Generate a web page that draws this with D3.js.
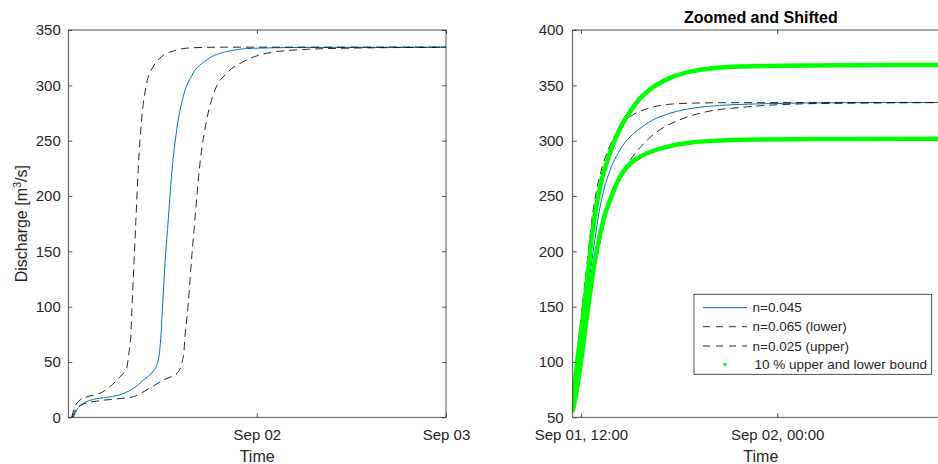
<!DOCTYPE html>
<html>
<head>
<meta charset="utf-8">
<script src="https://cdn.jsdelivr.net/npm/d3@7"></script>
<style>
  body { margin: 0; background: #fff; }
  text { font-family: "Liberation Sans", Arial, Helvetica, sans-serif; }
</style>
</head>
<body>
<svg id="chart" width="938" height="464"></svg>
<script>
// ---- Data: time in hours after Sep 01 00:00, discharge in m^3/s ----

// Full event (left panel)
const fullBaseH  = [0.72, 1.15, 1.99, 3.26, 4.96, 6.43, 8.33, 9.60, 10.87, 11.30, 11.63, 11.81, 12.06, 12.35, 12.72, 13.20, 13.84, 14.67, 15.94, 17.64, 20.18, 23.55, 29.48, 48];
const fullBaseQ  = [0, 6.6, 12.5, 16.2, 18, 20, 26, 33.5, 42, 47, 57.5, 71, 103, 139, 174, 220, 260, 290, 311, 323, 330.5, 333.5, 334.2, 334.5];
const fullLowerH = [0.59, 1.15, 1.99, 4.11, 6.64, 8.33, 10.2, 12.14, 14.04, 14.47, 14.76, 14.89, 15.31, 15.61, 16.03, 16.79, 17.64, 18.70, 20.18, 22.29, 25.25, 29.48, 35.82, 48];
const fullLowerQ = [0, 8.1, 12, 15, 17, 18.6, 25.5, 33.7, 41, 49, 60, 73, 103, 133, 169, 229.6, 268.7, 295.8, 311, 321.4, 329, 332.2, 333.6, 334.4];
const fullUpperH = [0.51, 0.93, 1.57, 2.84, 4.11, 5.37, 6.64, 7.49, 7.76, 8.0, 8.17, 8.42, 8.67, 8.96, 9.40, 10.03, 10.87, 11.93, 13.40, 15.94, 20.6, 48];
const fullUpperQ = [0, 9.6, 15.6, 19.3, 21.7, 27.7, 36.7, 44.3, 57.8, 72, 100, 140, 180, 225, 270, 302, 317, 326, 331, 334, 334.5, 334.5];

// Zoomed and shifted (right panel)
const zoomBaseH  = [11.55, 11.95, 12.36, 12.76, 13.17, 13.45, 13.78, 14.39, 15.61, 16.63, 17.45, 18.06, 19.69, 22.75, 27.84, 34.5];
const zoomBaseQ  = [58, 107.8, 156, 200.8, 240, 258, 273, 291.6, 311, 320.3, 324.8, 327.2, 330.8, 333.2, 334.3, 334.5];
const zoomLowerH = [11.52, 11.95, 12.56, 13.17, 13.6, 14.09, 15.0, 16.02, 16.84, 18.06, 19.69, 21.73, 24.78, 27.84, 34.5];
const zoomLowerQ = [55, 95, 160, 208, 236, 257, 282, 300, 310, 319, 326.2, 330, 332.9, 333.8, 334.4];
const zoomUpperH = [11.52, 11.95, 12.36, 12.56, 12.76, 13.0, 13.3, 13.68, 14.2, 14.7, 15.2, 15.61, 16.43, 17.65, 20.5, 34.5];
const zoomUpperQ = [60, 131.9, 186, 214, 238, 258, 276, 292, 308, 318, 323.5, 326.5, 330.5, 333.2, 334.3, 334.5];
const boundHiH   = [11.49, 11.74, 12.05, 12.36, 12.66, 12.97, 13.2, 13.47, 13.98, 14.5, 15.0, 15.61, 16.2, 16.63, 17.5, 18.67, 20.0, 21.73, 25.8, 34.5];
const boundHiQ   = [56, 95.7, 131.9, 171, 212, 243, 260, 275, 297, 314, 326, 338, 346, 350.5, 357, 362.4, 365.4, 367, 368, 368.4];
const boundLoH   = [11.52, 11.64, 12.05, 12.45, 12.86, 13.37, 13.88, 14.3, 14.8, 15.2, 15.61, 16.2, 16.84, 17.7, 18.67, 20.0, 22.75, 27.84, 34.5];
const boundLoQ   = [57, 65.6, 104.8, 150, 192, 228, 250, 265, 276, 281.5, 285.5, 289.5, 292.8, 296, 298.2, 299.8, 301, 301.5, 301.8];

// Axis ticks
const leftYTicks  = [0, 50, 100, 150, 200, 250, 300, 350];
const rightYTicks = [50, 100, 150, 200, 250, 300, 350, 400];
const leftXTickH  = [24, 48];
const leftXTickLabels  = ["Sep 02", "Sep 03"];
const rightXTickH = [12, 24];
const rightXTickLabels = ["Sep 01, 12:00", "Sep 02, 00:00"];

const legendLabels = ["n=0.045", "n=0.065 (lower)", "n=0.025 (upper)", "10 % upper and lower bound"];

// ---- Drawing ----
const svg = d3.select("#chart");
const t0 = Date.UTC(2016, 8, 1);
const toDate = h => new Date(t0 + h * 3600e3);
const zip = (H, Q) => H.map((h, i) => ({ t: toDate(h), q: Q[i] }));

const AX = "#262626";
const plotTop = 30, plotBottom = 417.3;

function panel(opts) {
  const g = svg.append("g");
  const x = d3.scaleUtc().domain(opts.xDomain.map(toDate)).range([opts.x0, opts.x1]);
  const y = d3.scaleLinear().domain(opts.yDomain).range([plotBottom, plotTop]);
  const clipId = "clip-" + opts.id;
  svg.append("clipPath").attr("id", clipId)
    .append("rect").attr("x", opts.x0).attr("y", plotTop)
    .attr("width", opts.x1 - opts.x0).attr("height", plotBottom - plotTop);

  const line = d3.line().x(d => x(d.t)).y(d => y(d.q)).curve(d3.curveMonotoneX);
  const lines = g.append("g").attr("clip-path", `url(#${clipId})`);
  opts.series.forEach(s => {
    lines.append("path").datum(s.data)
      .attr("fill", "none")
      .attr("stroke", s.color)
      .attr("stroke-width", s.width)
      .attr("stroke-dasharray", s.dash || null)
      .attr("stroke-linejoin", "round")
      .attr("stroke-linecap", s.cap || "butt")
      .attr("d", line);
  });

  const tickFmt = (labels, vals) => (d) => {
    const i = vals.findIndex(v => +toDate(v) === +d);
    return i >= 0 ? labels[i] : "";
  };

  // bottom axis
  const xb = g.append("g").attr("transform", `translate(0,${plotBottom})`)
    .call(d3.axisBottom(x).tickValues(opts.xTickH.map(toDate))
      .tickFormat(tickFmt(opts.xTickLabels, opts.xTickH))
      .tickSizeInner(-4).tickSizeOuter(0).tickPadding(12));
  // top mirror ticks
  const xt = g.append("g").attr("transform", `translate(0,${plotTop})`)
    .call(d3.axisTop(x).tickValues(opts.xTickH.map(toDate)).tickFormat("")
      .tickSizeInner(-4).tickSizeOuter(0));
  // left axis
  const yl = g.append("g").attr("transform", `translate(${opts.x0},0)`)
    .call(d3.axisLeft(y).tickValues(opts.yTicks).tickFormat(d3.format("d"))
      .tickSizeInner(-4).tickSizeOuter(0).tickPadding(opts.yPad));
  // right mirror ticks
  const yr = g.append("g").attr("transform", `translate(${opts.x1},0)`)
    .call(d3.axisRight(y).tickValues(opts.yTicks).tickFormat("")
      .tickSizeInner(-4).tickSizeOuter(0));

  [xb, xt, yl, yr].forEach(a => {
    a.select(".domain").remove();
    a.selectAll(".tick line").attr("stroke", AX).attr("stroke-width", 0.8);
    a.selectAll(".tick text").attr("fill", AX).style("font-size", "15px")
      .style("font-family", '"Liberation Sans", Arial, sans-serif');
  });

  // axes box
  g.append("rect")
    .attr("x", opts.x0).attr("y", plotTop)
    .attr("width", opts.x1 - opts.x0).attr("height", plotBottom - plotTop)
    .attr("fill", "none").attr("stroke", AX).attr("stroke-width", 0.8);

  // x label
  g.append("text").attr("x", (opts.x0 + opts.x1) / 2).attr("y", 461.5)
    .attr("text-anchor", "middle").attr("fill", AX).style("font-size", "16px")
    .text("Time");

  return { g, x, y };
}

const blue = "#0072BD", dashCol = "#111", green = "#00FF00";
const dashPat = "8,5";

const left = panel({
  id: "full", x0: 68.3, x1: 446, xDomain: [0.0833, 48], yDomain: [0, 350],
  yTicks: leftYTicks, xTickH: leftXTickH, xTickLabels: leftXTickLabels, yPad: 7.5,
  series: [
    { data: zip(fullBaseH, fullBaseQ), color: blue, width: 1 },
    { data: zip(fullLowerH, fullLowerQ), color: dashCol, width: 0.9, dash: dashPat },
    { data: zip(fullUpperH, fullUpperQ), color: dashCol, width: 0.9, dash: dashPat }
  ]
});

const right = panel({
  id: "zoom", x0: 572.7, x1: 949, xDomain: [11.5, 34.5], yDomain: [50, 400],
  yTicks: rightYTicks, xTickH: rightXTickH, xTickLabels: rightXTickLabels, yPad: 9,
  series: [
    { data: zip(zoomBaseH, zoomBaseQ), color: blue, width: 1 },
    { data: zip(zoomLowerH, zoomLowerQ), color: dashCol, width: 0.9, dash: dashPat },
    { data: zip(zoomUpperH, zoomUpperQ), color: dashCol, width: 0.9, dash: dashPat },
    { data: zip(boundHiH, boundHiQ), color: green, width: 4.5, cap: "round" },
    { data: zip(boundLoH, boundLoQ), color: green, width: 4.5, cap: "round" }
  ]
});

// y label on the left panel
const yLab = svg.append("text")
  .attr("transform", `translate(27,${(plotTop + plotBottom) / 2}) rotate(-90)`)
  .attr("text-anchor", "middle").attr("fill", AX).style("font-size", "16px");
yLab.append("tspan").text("Discharge [m");
yLab.append("tspan").attr("baseline-shift", "super").style("font-size", "11px").text("3");
yLab.append("tspan").text("/s]");

// title on the right panel
svg.append("text").attr("x", (572.7 + 949) / 2).attr("y", 22.5)
  .attr("text-anchor", "middle").attr("fill", "#000")
  .style("font-size", "16px").style("font-weight", "bold")
  .text("Zoomed and Shifted");

// legend
const lg = svg.append("g");
lg.append("rect").attr("x", 694).attr("y", 294.3).attr("width", 237.7).attr("height", 80)
  .attr("fill", "#fff").attr("stroke", AX).attr("stroke-width", 0.8);
const rowY = [307.7, 326.7, 346, 364.3];
const legendStyles = [
  { color: blue, width: 1 },
  { color: dashCol, width: 0.9, dash: "7,6" },
  { color: dashCol, width: 0.9, dash: "7,6" },
  { marker: true }
];
legendLabels.forEach((lab, i) => {
  const st = legendStyles[i];
  if (st.marker) {
    lg.append("rect").attr("x", 723.5).attr("y", rowY[i] - 1.5).attr("width", 3).attr("height", 3)
      .attr("fill", green);
  } else {
    lg.append("line").attr("x1", 703).attr("x2", 747).attr("y1", rowY[i]).attr("y2", rowY[i])
      .attr("stroke", st.color).attr("stroke-width", st.width)
      .attr("stroke-dasharray", st.dash || null);
  }
  lg.append("text").attr("x", i === 3 ? 754.5 : 752.5).attr("y", rowY[i]).attr("dy", "0.35em")
    .attr("fill", AX).style("font-size", "13.5px").text(lab);
});
</script>
</body>
</html>
